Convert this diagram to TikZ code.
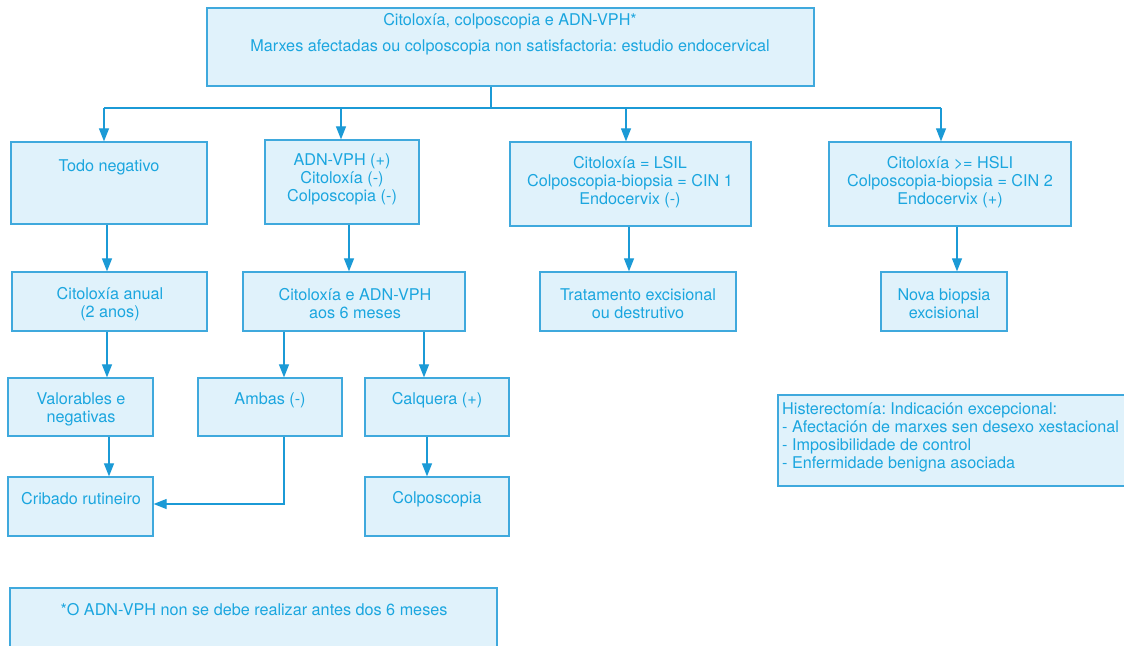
\documentclass[tikz,border=0pt]{standalone}
\usepackage{fontspec}
\setmainfont{TeX Gyre Heros}
\usetikzlibrary{arrows.meta}
\frenchspacing
\definecolor{ink}{HTML}{1BA6DF}
\definecolor{pale}{HTML}{E0F2FB}
\definecolor{edge}{HTML}{3FA9DD}
\definecolor{wire}{HTML}{1B9AD6}
\tikzset{
  box/.style={draw=edge, fill=pale, line width=1.3pt, inner sep=0pt},
  txt/.style={text=ink, font=\fontsize{16.2}{18}\selectfont, align=center, inner sep=0pt},
  wireline/.style={draw=wire, line width=1.2pt},
  arr/.style={wireline, -{Triangle[length=13pt,width=10pt]}},
}
% box: name, x1, y1, x2, y2
\newcommand\flowbox[5]{%
  \node[box, minimum width={(#4-#2)*1pt}, minimum height={(#5-#3)*1pt}]
    (#1) at ({(#2+#4)/2},{(#3+#5)/2}) {};}
\begin{document}
\begin{tikzpicture}[x=1pt, y=-1pt]
\useasboundingbox (0,0) rectangle (1124,645);

% boxes
\flowbox{top}{207}{8}{814}{86}
\flowbox{neg}{11}{142}{207}{224}
\flowbox{vph}{265}{140}{419}{224}
\flowbox{lsil}{510}{142}{751}{226}
\flowbox{hsil}{829}{142}{1071}{226}
\flowbox{anual}{12}{272}{207}{331}
\flowbox{seis}{243}{272}{465}{331}
\flowbox{trat}{540}{272}{736}{331}
\flowbox{nova}{881}{272}{1007}{331}
\flowbox{valor}{8}{378}{153}{436}
\flowbox{ambas}{198}{378}{342}{436}
\flowbox{calq}{365}{378}{509}{436}
\flowbox{crib}{8}{477}{153}{536}
\flowbox{colp}{365}{477}{509}{536}
\flowbox{hist}{778}{395}{1130}{486}
\flowbox{nota}{10}{588}{497}{650}

% texts
\node[txt] (top-t) at (510,34) {Citoloxía, colposcopia e ADN-VPH*\\[8pt]Marxes afectadas ou colposcopia non satisfactoria: estudio endocervical};
\node[txt] (neg-t) at (109,167) {Todo negativo};
\node[txt] (vph-t) at (342,179) {ADN-VPH (+)\\Citoloxía (-)\\Colposcopia (-)};
\node[txt] (lsil-t) at (630,182) {Citoloxía = LSIL\\Colposcopia-biopsia = CIN 1\\Endocervix (-)};
\node[txt] (hsil-t) at (950,182) {Citoloxía >= HSLI\\Colposcopia-biopsia = CIN 2\\Endocervix (+)};
\node[txt] (anual-t) at (110,304) {Citoloxía anual\\(2 anos)};
\node[txt] (seis-t) at (355,304) {Citoloxía e ADN-VPH\\aos 6 meses};
\node[txt] (trat-t) at (638,304) {Tratamento excisional\\ou destrutivo};
\node[txt] (nova-t) at (944,304) {Nova biopsia\\excisional};
\node[txt] (valor-t) at (81,409) {Valorables e\\negativas};
\node[txt] (ambas-t) at (270,400) {Ambas (-)};
\node[txt] (calq-t) at (437,400) {Calquera (+)};
\node[txt] (crib-t) at (81,499) {Cribado rutineiro};
\node[txt] (colp-t) at (437,499) {Colposcopia};
\node[txt, align=left, anchor=west] (hist-t) at (782,437) {Histerectomía: Indicación excepcional:\\- Afectación de marxes sen desexo xestacional\\- Imposibilidade de control\\- Enfermidade benigna asociada};
\node[txt] (nota-t) at (254,610) {*O ADN-VPH non se debe realizar antes dos 6 meses};

% distribution bus under the top box
\coordinate (hub) at (491,108);
\coordinate (b1) at (104,108);
\coordinate (b2) at (341,108);
\coordinate (b3) at (626,108);
\coordinate (b4) at (941,108);
\draw[wireline] (top.south -| hub) -- (hub);
\draw[wireline] (b1) -- (b4);
\draw[arr] (b1) -- (b1 |- neg.north);
\draw[arr] (b2) -- (b2 |- vph.north);
\draw[arr] (b3) -- (b3 |- lsil.north);
\draw[arr] (b4) -- (b4 |- hsil.north);

% vertical links
\draw[arr] (neg.south -| 107,0) -- (anual.north -| 107,0);
\draw[arr] (vph.south -| 349,0) -- (seis.north -| 349,0);
\draw[arr] (lsil.south -| 629,0) -- (trat.north -| 629,0);
\draw[arr] (hsil.south -| 957,0) -- (nova.north -| 957,0);
\draw[arr] (anual.south -| 107,0) -- (valor.north -| 107,0);
\draw[arr] (seis.south -| 284,0) -- (ambas.north -| 284,0);
\draw[arr] (seis.south -| 424,0) -- (calq.north -| 424,0);
\draw[arr] (valor.south -| 109,0) -- (crib.north -| 109,0);
\draw[arr] (calq.south -| 427,0) -- (colp.north -| 427,0);
\draw[arr] (ambas.south -| 284,0) -- (284,504) -- (crib.east |- 0,504);
\end{tikzpicture}
\end{document}
